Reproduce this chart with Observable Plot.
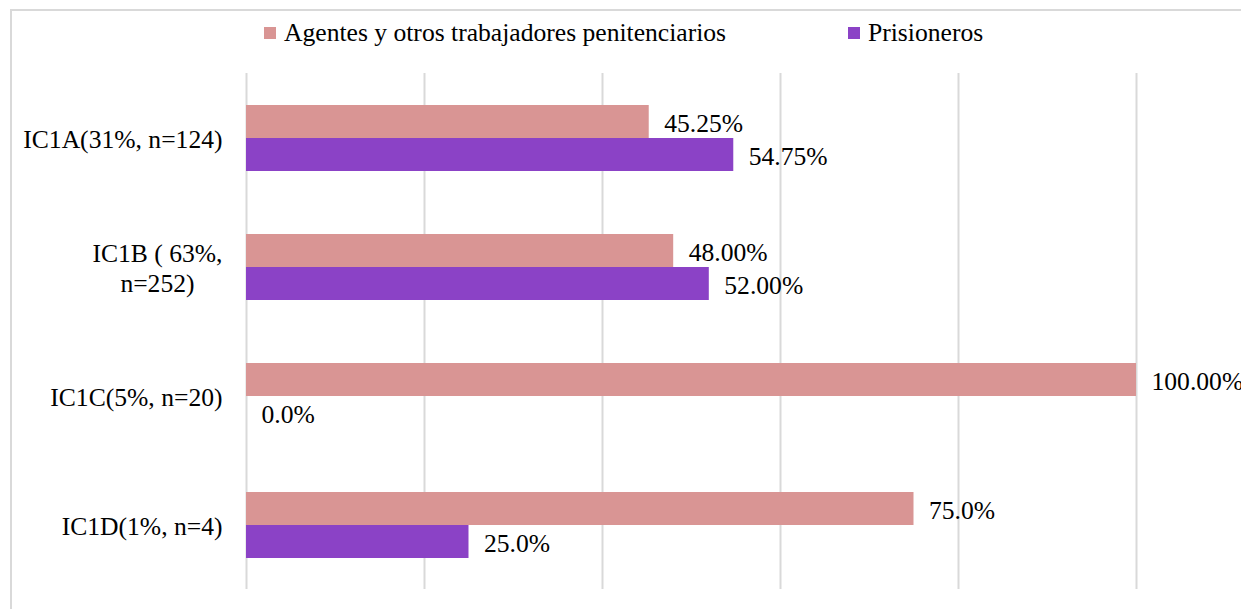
<!DOCTYPE html>
<html>
<head>
<meta charset="utf-8">
<script src="https://cdn.jsdelivr.net/npm/d3@7"></script>
<script src="https://cdn.jsdelivr.net/npm/@observablehq/plot@0.6"></script>
<style>
  html, body { margin: 0; padding: 0; background: #fff; overflow: hidden; }
  #wrap { position: relative; width: 1241px; height: 609px; overflow: hidden; font-family: "Liberation Serif", "Times New Roman", serif; }
  #frame { position: absolute; left: 10px; top: 9px; width: 1260px; height: 640px; border: 2px solid #d9d9d9; box-sizing: border-box; }
  .leg { position: absolute; top: 18px; display: flex; align-items: center; font-size: 25.6px; color: #000; white-space: nowrap; }
  .sw { width: 12px; height: 12px; margin-right: 8px; }
  #chart { position: absolute; left: 0; top: 60px; }
</style>
</head>
<body>
<div id="wrap">
  <div id="frame"></div>
  <div id="legend"></div>
  <div id="chart"></div>
</div>
<script>
const categories = ["IC1A(31%, n=124)", "IC1B ( 63%,\nn=252)", "IC1C(5%, n=20)", "IC1D(1%, n=4)"];
const series = ["Agentes y otros trabajadores penitenciarios", "Prisioneros"];
const colors = ["#D99594", "#8B42C6"];
const agentes = [45.25, 48.00, 100.00, 75.0];
const prisioneros = [54.75, 52.00, 0.0, 25.0];
const agentesLabels = ["45.25%", "48.00%", "100.00%", "75.0%"];
const prisionerosLabels = ["54.75%", "52.00%", "0.0%", "25.0%"];
const gridTicks = [0, 20, 40, 60, 80, 100];

const rows = [];
categories.forEach((c, i) => {
  rows.push({cat: c, series: series[0], value: agentes[i], label: agentesLabels[i]});
  rows.push({cat: c, series: series[1], value: prisioneros[i], label: prisionerosLabels[i]});
});

// legend
const legend = document.getElementById("legend");
const legLeft = [264, 848];
series.forEach((s, i) => {
  const item = document.createElement("div");
  item.className = "leg";
  item.style.left = legLeft[i] + "px";
  const sw = document.createElement("div");
  sw.className = "sw";
  sw.style.background = colors[i];
  item.appendChild(sw);
  const t = document.createElement("span");
  t.textContent = s;
  item.appendChild(t);
  legend.appendChild(item);
});

// measure label widths for centered multi-line labels
const ctx = document.createElement("canvas").getContext("2d");
ctx.font = "25.6px 'Liberation Serif'";
const labelMarks = categories.map(c => {
  const w = Math.max(...c.split("\n").map(l => ctx.measureText(l).width));
  return Plot.text([c], {
    fy: d => d, text: d => d, frameAnchor: "left", textAnchor: "middle",
    dx: -24 - w / 2, lineHeight: 1.17, fill: "#000"
  });
});

const plot = Plot.plot({
  width: 1241, height: 549,
  marginLeft: 246, marginRight: 105, marginTop: 13, marginBottom: 20,
  style: {fontFamily: "'Liberation Serif', 'Times New Roman', serif", fontSize: "25.6px", color: "#000", background: "transparent", overflow: "visible"},
  x: {domain: [0, 100], axis: null},
  y: {domain: series, axis: null, paddingInner: 0, paddingOuter: 0.925},
  fy: {domain: categories, axis: null, padding: 0},
  color: {domain: series, range: colors},
  marks: [
    Plot.gridX(gridTicks, {stroke: "#d9d9d9", strokeWidth: 2, strokeOpacity: 1}),
    Plot.barX(rows, {x: "value", y: "series", fy: "cat", fill: "series"}),
    Plot.text(rows, {x: "value", y: "series", fy: "cat", text: "label", dx: 15, dy: 2, textAnchor: "start", fill: "#000"}),
    ...labelMarks
  ]
});
document.getElementById("chart").appendChild(plot);
</script>
</body>
</html>
